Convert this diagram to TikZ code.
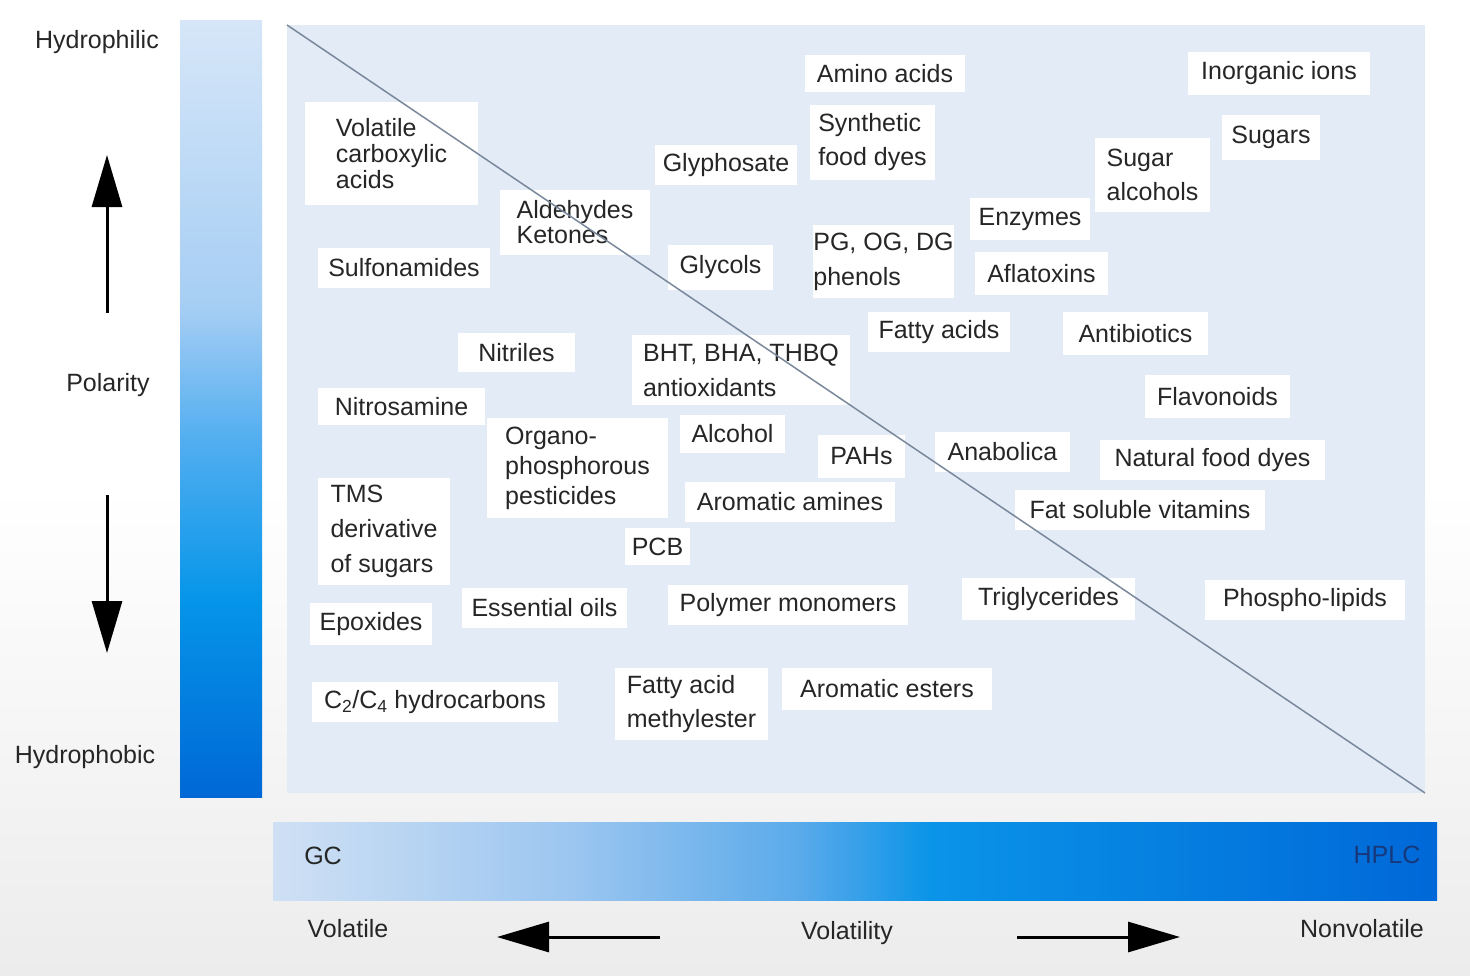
\documentclass[tikz,border=0pt]{standalone}
\usepackage{fontspec}
\setmainfont{Liberation Sans}
\usetikzlibrary{arrows.meta}
\definecolor{panel}{HTML}{E3EBF6}
\definecolor{txt}{HTML}{262626}
\definecolor{diag}{HTML}{7A889C}
\definecolor{va}{HTML}{D6E6F8}
\definecolor{vb}{HTML}{A6CEF4}
\definecolor{vc}{HTML}{52AEF0}
\definecolor{vd}{HTML}{0595E9}
\definecolor{ve}{HTML}{0068D6}
\definecolor{ha}{HTML}{CFE0F4}
\definecolor{hb}{HTML}{9CC6F0}
\definecolor{hc}{HTML}{5AAAEA}
\definecolor{hd}{HTML}{0A94E8}
\definecolor{he}{HTML}{0068D8}
\definecolor{hplc}{HTML}{16387A}
\definecolor{bgbot}{HTML}{ECECEC}
\tikzset{
  lbl/.style={fill=white, text=txt, inner sep=0pt, align=left},
  axis/.style={text=txt, font=\fontsize{25}{28}\selectfont, inner sep=0pt},
  bigarrow/.style={line width=3pt, draw=black, -{Triangle[length=52pt,width=30pt]}},
}
\newcommand\bx[7]{%
  \node[lbl, minimum width={(#4-#2)*1pt}, minimum height={(#5-#3)*1pt},
        font=\fontsize{25}{#6}\selectfont] (#1) at ({(#2+#4)/2},{(#3+#5)/2}) {#7};}
\begin{document}
\begin{tikzpicture}[x=1pt,y=-1pt]
\useasboundingbox (0,0) rectangle (1470,975);
% background
\shade[top color=white, bottom color=bgbot, middle color=white, shading angle=0] (0,0) rectangle (1470,975);
% panel
\fill[panel] (287,25) rectangle (1425,793);
% vertical bar (piecewise gradient)
\shade[top color=va, bottom color=vb] (180,20) rectangle (262,306.5);
\shade[top color=vb, bottom color=vc] (180,306) rectangle (262,440.5);
\shade[top color=vc, bottom color=vd] (180,440) rectangle (262,600.5);
\shade[top color=vd, bottom color=ve] (180,600) rectangle (262,797);
% horizontal bar (piecewise gradient)
\shade[left color=ha, right color=hb] (273,822) rectangle (570.5,900);
\shade[left color=hb, right color=hc] (570,822) rectangle (800.5,900);
\shade[left color=hc, right color=hd] (800,822) rectangle (930.5,900);
\shade[left color=hd, right color=he] (930,822) rectangle (1437,900);
% labels
\bx{vca}{305}{102}{478}{205}{26}{Volatile\\carboxylic\\acids}
\bx{ald}{500}{190}{650}{255}{25}{Aldehydes\\Ketones}
\bx{sulf}{318}{248}{490}{288}{28}{Sulfonamides}
\bx{glyph}{655}{145}{797}{185}{28}{Glyphosate}
\bx{amino}{805}{55}{965}{92}{28}{Amino acids}
\bx{synth}{810}{105}{935}{180}{34}{Synthetic\\food dyes}
\bx{glyc}{668}{245}{773}{290}{28}{Glycols}
\bx{pg}{815}{225}{952}{298}{35}{PG, OG, DG\\phenols}
\bx{enz}{970}{198}{1090}{240}{28}{Enzymes}
\bx{afla}{975}{252}{1108}{295}{28}{Aflatoxins}
\bx{sugalc}{1095}{138}{1210}{212}{34}{Sugar\\alcohols}
\bx{inorg}{1188}{52}{1370}{95}{28}{Inorganic ions}
\bx{sugars}{1222}{115}{1320}{160}{28}{Sugars}
\bx{fatty}{868}{312}{1010}{352}{28}{Fatty acids}
\bx{antib}{1063}{312}{1208}{355}{28}{Antibiotics}
\bx{nitr}{458}{333}{575}{372}{28}{Nitriles}
\bx{bht}{632}{335}{850}{405}{35}{BHT, BHA, THBQ\\antioxidants}
\bx{flav}{1145}{375}{1290}{418}{28}{Flavonoids}
\bx{nitros}{318}{388}{485}{425}{28}{Nitrosamine}
\bx{organo}{487}{418}{668}{518}{30}{Organo-\\phosphorous\\pesticides}
\bx{alc}{680}{415}{785}{453}{28}{Alcohol}
\bx{pah}{818}{435}{905}{478}{28}{PAHs}
\bx{anab}{935}{432}{1070}{472}{28}{Anabolica}
\bx{natfd}{1100}{440}{1325}{480}{28}{Natural food dyes}
\bx{tms}{318}{478}{450}{585}{35}{TMS\\derivative\\of sugars}
\bx{aroam}{685}{482}{895}{522}{28}{Aromatic amines}
\bx{fsv}{1015}{490}{1265}{530}{28}{Fat soluble vitamins}
\bx{pcb}{625}{528}{690}{565}{28}{PCB}
\bx{epox}{310}{603}{432}{645}{28}{Epoxides}
\bx{essoil}{462}{588}{627}{628}{28}{Essential oils}
\bx{polym}{668}{585}{908}{625}{28}{Polymer monomers}
\bx{trig}{962}{578}{1135}{620}{28}{Triglycerides}
\bx{phos}{1205}{580}{1405}{620}{28}{Phospho-lipids}
\bx{hydroc}{312}{682}{558}{722}{28}{C\textsubscript{2}/C\textsubscript{4} hydrocarbons}
\bx{fame}{615}{668}{768}{740}{34}{Fatty acid\\methylester}
\bx{aroest}{782}{668}{992}{710}{28}{Aromatic esters}
% diagonal drawn over the boxes
\coordinate (dA) at (287,25);
\coordinate (dB) at (1425,793);
\draw[diag, line width=1.5pt] (dA) -- (dB);
% axis labels
\node[axis] (hphil) at (97,42) {Hydrophilic};
\node[axis] (pol) at (108,385) {Polarity};
\node[axis] (hphob) at (85,757) {Hydrophobic};
\node[axis] (gc) at (323,856) {GC};
\node[axis, text=hplc] (hplcl) at (1387,855) {HPLC};
\node[axis] (volat) at (348,929) {Volatile};
\node[axis] (volty) at (847,933) {Volatility};
\node[axis] (nonvol) at (1362,929) {Nonvolatile};
% arrows
\coordinate (upS) at (107,313);
\coordinate (upE) at (107,155);
\coordinate (dnS) at (107,495);
\coordinate (dnE) at (107,653);
\coordinate (lfS) at (660,937);
\coordinate (lfE) at (497,937);
\coordinate (rtS) at (1017,937);
\coordinate (rtE) at (1180,937);
\draw[bigarrow] (upS) -- (upE);
\draw[bigarrow] (dnS) -- (dnE);
\draw[bigarrow] (lfS) -- (lfE);
\draw[bigarrow] (rtS) -- (rtE);
\end{tikzpicture}
\end{document}
